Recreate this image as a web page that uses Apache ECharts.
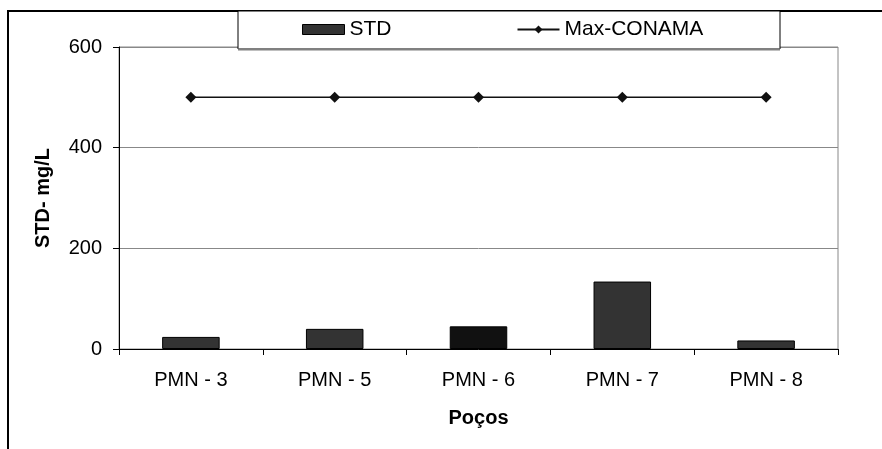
<!DOCTYPE html>
<html>
<head>
<meta charset="utf-8">
<script src="https://cdn.jsdelivr.net/npm/echarts@6/dist/echarts.min.js"></script>
<style>
  html, body { margin: 0; padding: 0; background: #fff; }
  #chart { width: 882px; height: 449px; }
</style>
</head>
<body>
<div id="chart"></div>
<script>
const categories = ["PMN - 3", "PMN - 5", "PMN - 6", "PMN - 7", "PMN - 8"];
const stdValues = [24, 40, 45, 134, 17];
const maxConama = [500, 500, 500, 500, 500];
const yTicks = [0, 200, 400, 600];

const font = "Liberation Sans, Arial, sans-serif";

var chart = echarts.init(document.getElementById("chart"));

var option = {
  animation: false,
  textStyle: { fontFamily: font },
  grid: {
    left: 119,
    top: 47,
    right: 44,
    bottom: 100,
    show: true,
    borderColor: "#888",
    borderWidth: 1,
  },
  legend: {
    left: 302,
    top: 19,
    padding: 0,
    z: 120,
    itemWidth: 42,
    itemHeight: 10,
    itemGap: 125,
    textStyle: { fontSize: 21, color: "#000", fontFamily: font },
    data: [
      { name: "STD", icon: "rect", itemStyle: { color: "#333", borderColor: "#000", borderWidth: 1 } },
      { name: "Max-CONAMA" },
    ],
  },
  graphic: [
    {
      type: "rect",
      z: 100,
      shape: { x: 8, y: 11, width: 900, height: 460 },
      style: { fill: "none", stroke: "#000", lineWidth: 2 },
    },
    {
      type: "rect",
      z: 100,
      shape: { x: 238, y: 11, width: 542, height: 38 },
      style: { fill: "#fff", stroke: "#000", lineWidth: 1 },
    },
    {
      type: "line",
      z: 101,
      shape: { x1: 238, y1: 49.5, x2: 780, y2: 49.5 },
      style: { stroke: "#808080", lineWidth: 2 },
    },
  ],
  xAxis: {
    type: "category",
    data: categories,
    name: "Poços",
    nameLocation: "middle",
    nameGap: 59,
    nameTextStyle: { fontSize: 20, fontWeight: "bold", color: "#000", fontFamily: font },
    axisLine: { lineStyle: { color: "#000", width: 1 } },
    axisTick: { show: true, length: 6, lineStyle: { color: "#000" } },
    axisLabel: { fontSize: 20, color: "#000", margin: 21, fontFamily: font },
    splitLine: { show: false },
  },
  yAxis: {
    type: "value",
    min: yTicks[0],
    max: yTicks[yTicks.length - 1],
    interval: 200,
    name: "STD- mg/L",
    nameLocation: "middle",
    nameRotate: 90,
    nameGap: 66,
    nameTextStyle: { fontSize: 20, fontWeight: "bold", color: "#000", fontFamily: font },
    axisLine: { show: true, lineStyle: { color: "#000", width: 1 } },
    axisTick: { show: true, inside: false, length: 6, lineStyle: { color: "#000" } },
    axisLabel: { fontSize: 20, color: "#000", margin: 17, fontFamily: font },
    splitLine: { show: true, lineStyle: { color: "#888", width: 1 } },
  },
  series: [
    {
      name: "STD",
      type: "bar",
      data: stdValues,
      barWidth: "40%",
      itemStyle: {
        color: function (p) { return p.dataIndex === 2 ? "#111" : "#333"; },
        borderColor: "#000",
        borderWidth: 1,
      },
    },
    {
      name: "Max-CONAMA",
      type: "line",
      data: maxConama,
      symbol: "diamond",
      symbolSize: 11,
      itemStyle: { color: "#111" },
      lineStyle: { color: "#111", width: 1.5 },
    },
  ],
};

option && chart.setOption(option);
</script>
</body>
</html>
